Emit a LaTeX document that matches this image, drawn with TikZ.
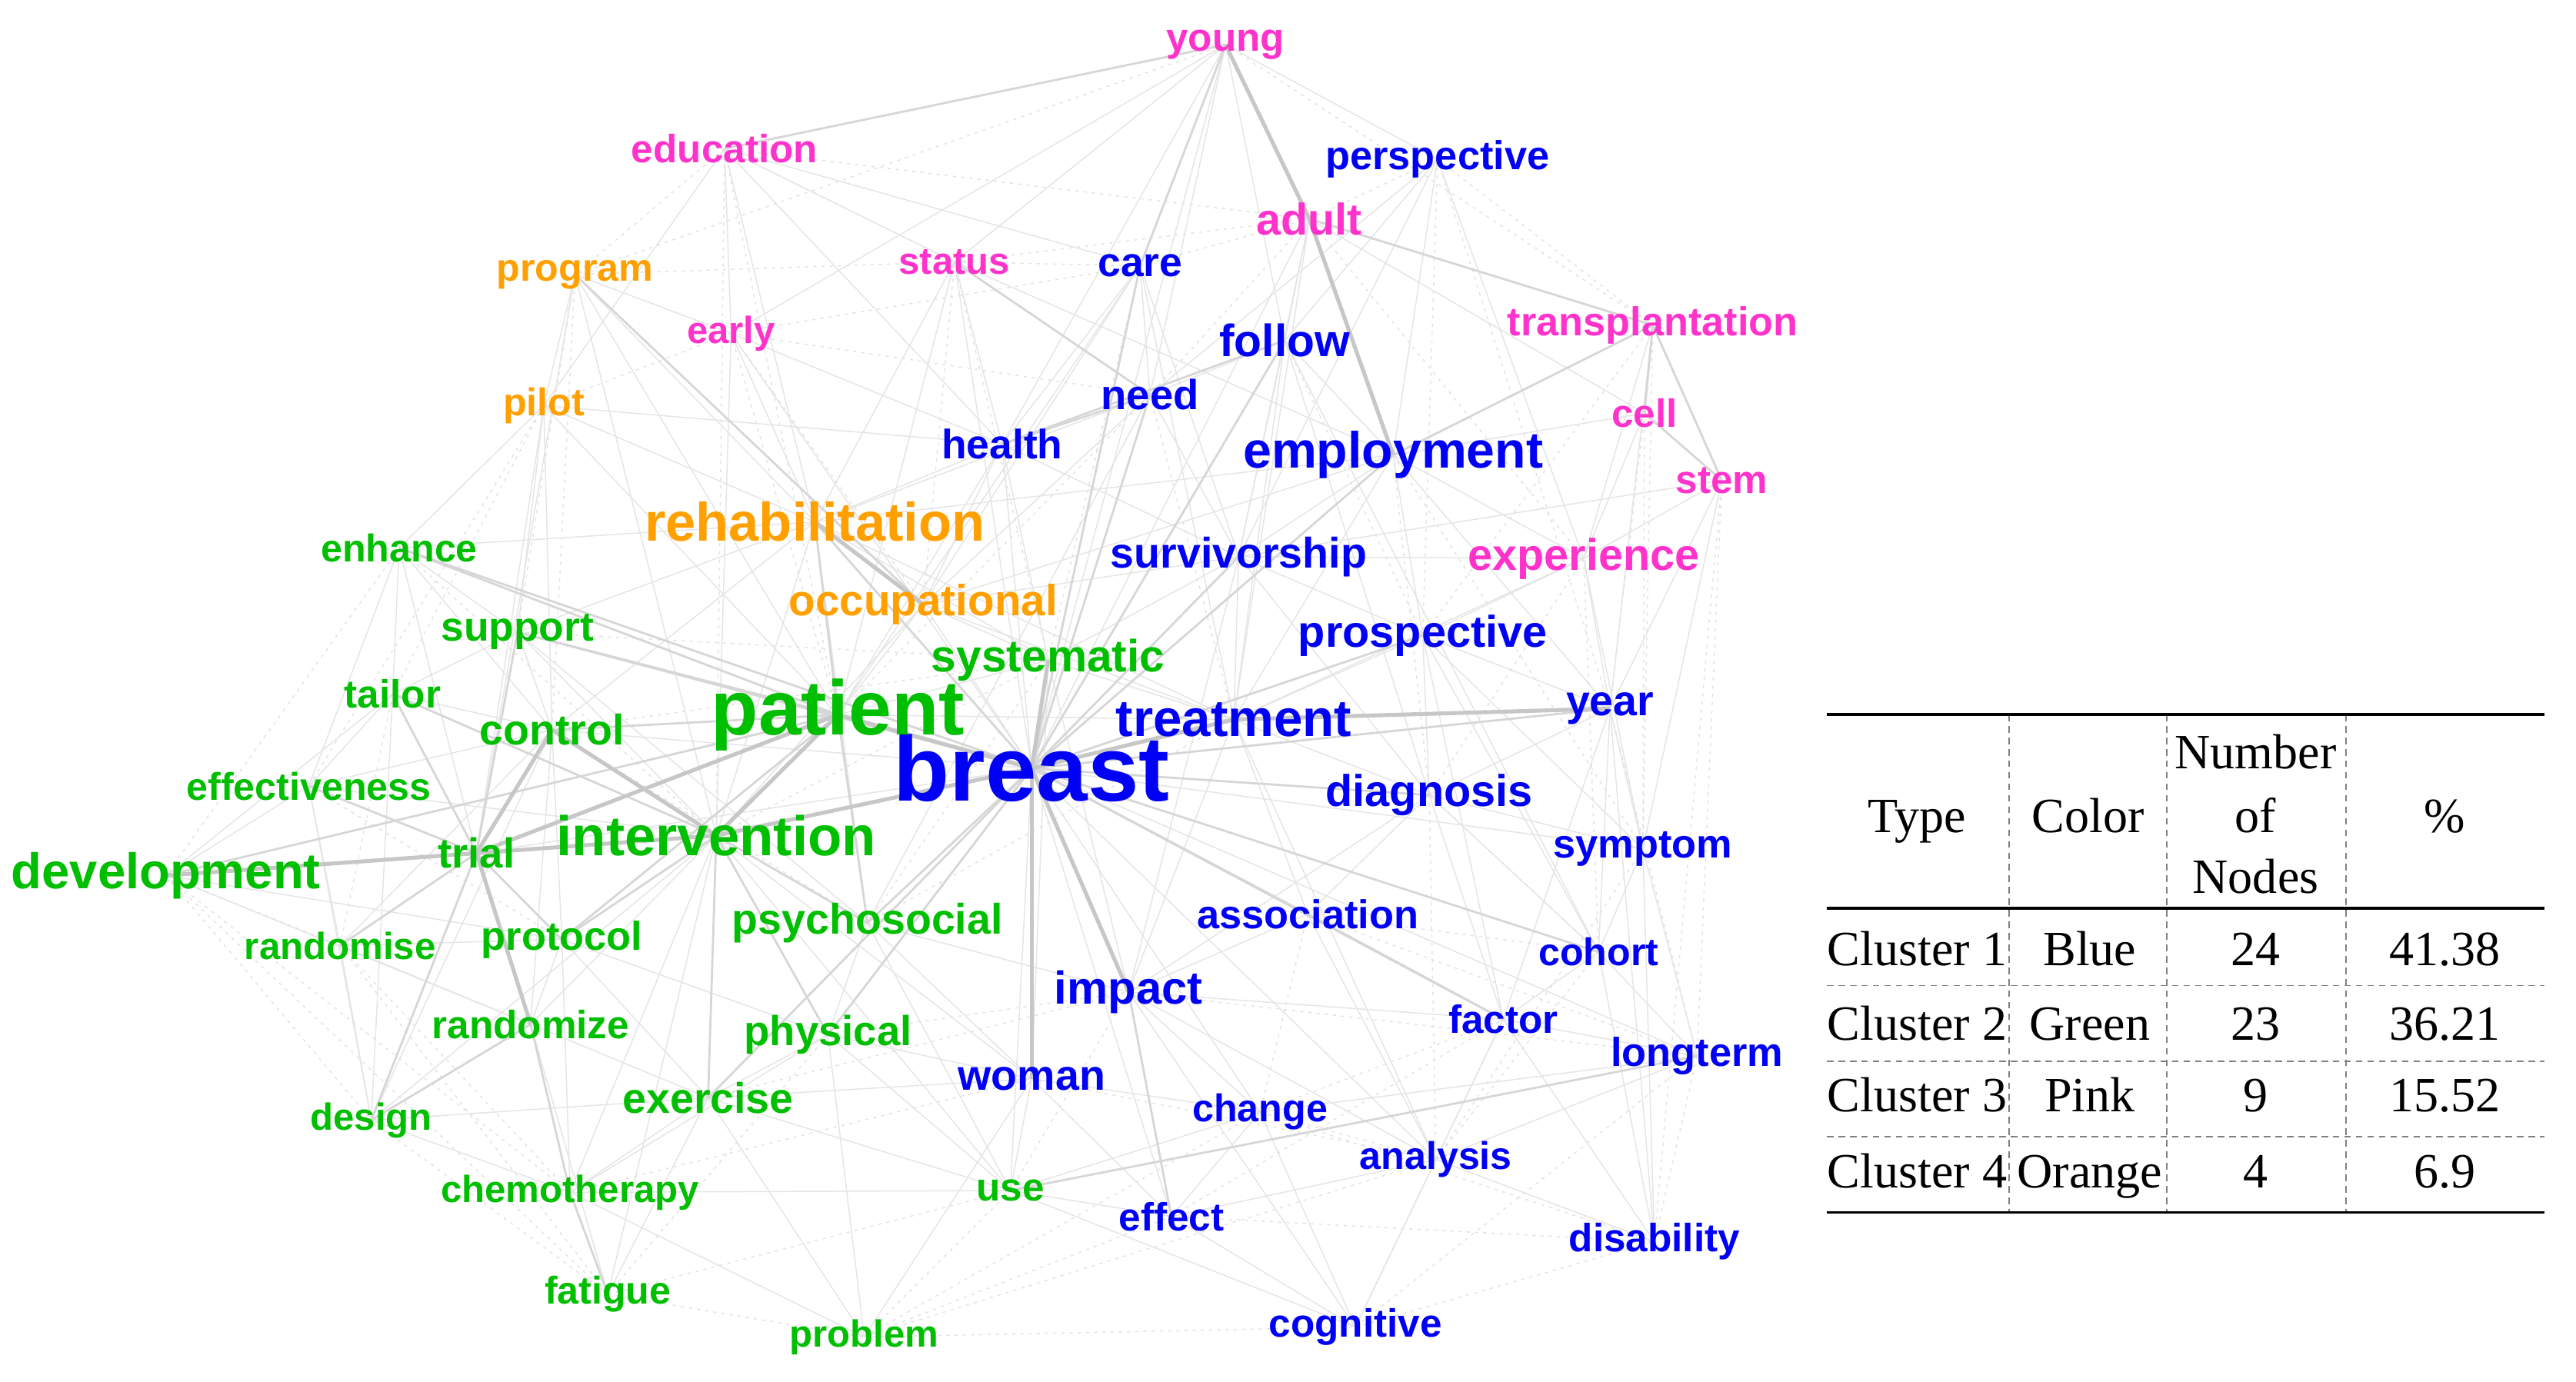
\documentclass[tikz,border=0pt]{standalone}
\usepackage{fontspec}
\setmainfont{Liberation Sans}
\newfontfamily\tabfont{Liberation Serif}
\usetikzlibrary{backgrounds}
\definecolor{cblue}{RGB}{0,0,245}
\definecolor{cgreen}{RGB}{0,190,0}
\definecolor{cpink}{RGB}{255,51,204}
\definecolor{corange}{RGB}{255,160,0}
\newcommand\wf[1]{\fontsize{#1}{#1}\selectfont\bfseries}
\newcommand\tf{\tabfont\fontsize{30}{30}\selectfont}
% style, size, name, x, y (visual centre), text
\newcommand\wnode[6]{\node[#1,font=\wf{#2}] (#3) at (#4,{#5+0.27*#2}) {#6};}
% name, x, baseline y, text
\newcommand\tnode[4]{\node[tcell] (#1) at (#2,#3) {#4};}
\begin{document}
\begin{tikzpicture}[x=1pt,y=-1pt,
 word/.style={inner sep=0pt, anchor=mid},
 bl/.style={word,text=cblue}, gr/.style={word,text=cgreen},
 pk/.style={word,text=cpink}, og/.style={word,text=corange},
 ek/.style={draw=black!22, line width=2.4pt},
 em/.style={draw=black!16, line width=1.3pt},
 et/.style={draw=black!10, line width=0.7pt},
 ed/.style={draw=black!11, line width=0.7pt, dash pattern=on 2pt off 3pt},
 tcell/.style={inner sep=0pt, anchor=base, font=\tf},
 rulek/.style={draw=black, line width=1.6pt},
 ruled/.style={draw=black!50, line width=0.9pt, dash pattern=on 4pt off 3pt}]
\useasboundingbox (0,0) rectangle (1568,841);
% pink
\wnode{pk}{24}{young}{746}{22}{young}
\wnode{pk}{24}{education}{441}{90}{education}
\wnode{pk}{27}{adult}{797}{133}{adult}
\wnode{pk}{23}{status}{581}{158}{status}
\wnode{pk}{23}{early}{445}{200}{early}
\wnode{pk}{24.5}{transplantation}{1006}{195}{transplantation}
\wnode{pk}{24}{cell}{1001}{251}{cell}
\wnode{pk}{24}{stem}{1048}{291}{stem}
\wnode{pk}{27}{experience}{964}{337}{experience}
% orange
\wnode{og}{23.5}{program}{350}{162}{program}
\wnode{og}{23.5}{pilot}{331}{244}{pilot}
\wnode{og}{33}{rehabilitation}{496}{318}{rehabilitation}
\wnode{og}{26.5}{occupational}{562}{365}{occupational}
% blue
\wnode{bl}{24.5}{perspective}{875}{94}{perspective}
\wnode{bl}{25}{care}{694}{159}{care}
\wnode{bl}{27.5}{follow}{782}{207}{follow}
\wnode{bl}{25.5}{need}{700}{240}{need}
\wnode{bl}{25}{health}{610}{270}{health}
\wnode{bl}{31}{employment}{848}{274}{employment}
\wnode{bl}{26}{survivorship}{754}{336}{survivorship}
\wnode{bl}{27}{prospective}{866}{384}{prospective}
\wnode{bl}{31.5}{treatment}{751}{437}{treatment}
\wnode{bl}{26}{year}{980}{426}{year}
\wnode{bl}{56}{breast}{628}{470}{breast}
\wnode{bl}{27}{diagnosis}{870}{481}{diagnosis}
\wnode{bl}{24.5}{symptom}{1000}{513}{symptom}
\wnode{bl}{24.5}{association}{796}{556}{association}
\wnode{bl}{23.5}{cohort}{973}{579}{cohort}
\wnode{bl}{28}{impact}{687}{601}{impact}
\wnode{bl}{24}{factor}{915}{620}{factor}
\wnode{bl}{24.5}{longterm}{1033}{640}{longterm}
\wnode{bl}{26}{woman}{628}{654}{woman}
\wnode{bl}{23.5}{change}{767}{674}{change}
\wnode{bl}{23.5}{analysis}{874}{703}{analysis}
\wnode{bl}{24}{effect}{713}{740}{effect}
\wnode{bl}{24}{disability}{1007}{753}{disability}
\wnode{bl}{24}{cognitive}{825}{805}{cognitive}
% green
\wnode{gr}{23.5}{enhance}{243}{333}{enhance}
\wnode{gr}{25}{support}{315}{381}{support}
\wnode{gr}{27.5}{systematic}{638}{399}{systematic}
\wnode{gr}{24}{tailor}{239}{422}{tailor}
\wnode{gr}{26}{control}{336}{444}{control}
\wnode{gr}{47}{patient}{510}{432}{patient}
\wnode{gr}{23.5}{effectiveness}{188}{478}{effectiveness}
\wnode{gr}{30.5}{development}{101}{530}{development}
\wnode{gr}{25.5}{trial}{290}{519}{trial}
\wnode{gr}{34}{intervention}{436}{509}{intervention}
\wnode{gr}{23}{randomise}{207}{575}{randomise}
\wnode{gr}{24.5}{protocol}{342}{569}{protocol}
\wnode{gr}{26}{psychosocial}{528}{559}{psychosocial}
\wnode{gr}{24}{randomize}{323}{623}{randomize}
\wnode{gr}{25.5}{physical}{504}{627}{physical}
\wnode{gr}{23}{design}{226}{679}{design}
\wnode{gr}{26}{exercise}{431}{668}{exercise}
\wnode{gr}{23}{chemotherapy}{347}{723}{chemotherapy}
\wnode{gr}{24}{use}{615}{722}{use}
\wnode{gr}{23.5}{fatigue}{370}{785}{fatigue}
\wnode{gr}{23}{problem}{526}{811}{problem}
\begin{pgfonlayer}{background}
\foreach \a/\b in {young/status,young/care,young/perspective,young/follow,young/early,young/need,young/health,
 education/early,education/rehabilitation,education/status,education/care,education/pilot,education/health,
 program/pilot,program/early,program/rehabilitation,program/patient,program/trial,program/intervention,
 pilot/rehabilitation,pilot/enhance,pilot/support,pilot/patient,pilot/trial,pilot/control,pilot/health,
 status/health,status/rehabilitation,status/breast,status/patient,status/employment,
 early/breast,early/rehabilitation,early/intervention,early/health,
 care/need,care/survivorship,care/occupational,care/health,care/patient,care/treatment,
 perspective/follow,perspective/need,perspective/employment,perspective/experience,perspective/survivorship,
 adult/follow,adult/survivorship,adult/cell,adult/breast,adult/treatment,
 follow/need,follow/employment,follow/survivorship,follow/treatment,follow/diagnosis,follow/cohort,
 need/survivorship,need/rehabilitation,need/occupational,need/psychosocial,
 health/rehabilitation,health/occupational,health/patient,health/survivorship,health/systematic,
 employment/survivorship,employment/experience,employment/prospective,employment/cell,employment/year,employment/treatment,employment/rehabilitation,employment/occupational,
 transplantation/experience,transplantation/year,
 cell/experience,stem/experience,stem/survivorship,stem/year,stem/symptom,
 experience/survivorship,experience/year,experience/symptom,experience/prospective,experience/treatment,
 survivorship/treatment,survivorship/prospective,survivorship/occupational,survivorship/systematic,survivorship/diagnosis,survivorship/impact,
 prospective/treatment,prospective/year,prospective/diagnosis,prospective/cohort,prospective/factor,prospective/symptom,
 rehabilitation/systematic,rehabilitation/intervention,rehabilitation/enhance,rehabilitation/support,rehabilitation/control,rehabilitation/treatment,rehabilitation/psychosocial,
 occupational/systematic,occupational/patient,occupational/intervention,occupational/treatment,
 systematic/patient,systematic/treatment,systematic/impact,systematic/woman,
 enhance/support,enhance/trial,enhance/tailor,enhance/control,enhance/effectiveness,
 support/control,support/intervention,support/tailor,support/psychosocial,
 tailor/control,tailor/effectiveness,tailor/development,tailor/design,
 control/randomise,control/randomize,control/protocol,control/effectiveness,control/design,
 effectiveness/development,effectiveness/intervention,effectiveness/randomise,effectiveness/design,
 development/protocol,development/randomize,
 intervention/randomize,intervention/design,intervention/chemotherapy,intervention/fatigue,intervention/use,intervention/woman,
 randomise/design,randomise/protocol,randomise/randomize,
 protocol/randomize,protocol/chemotherapy,protocol/exercise,protocol/physical,
 randomize/fatigue,randomize/exercise,design/chemotherapy,design/exercise,
 chemotherapy/exercise,chemotherapy/physical,chemotherapy/problem,chemotherapy/use,
 exercise/physical,exercise/fatigue,exercise/problem,exercise/use,exercise/woman,
 physical/psychosocial,physical/use,physical/problem,physical/woman,
 psychosocial/impact,psychosocial/woman,psychosocial/use,
 woman/use,woman/effect,woman/change,woman/problem,
 impact/change,impact/association,impact/analysis,impact/cognitive,impact/factor,
 use/effect,use/change,use/cognitive,
 effect/cognitive,effect/analysis,effect/change,
 cognitive/analysis,cognitive/factor,cognitive/change,
 analysis/association,analysis/disability,analysis/factor,analysis/longterm,analysis/treatment,
 factor/cohort,factor/year,factor/longterm,factor/diagnosis,factor/disability,
 cohort/symptom,cohort/disability,cohort/longterm,cohort/year,cohort/diagnosis,
 longterm/symptom,longterm/change,disability/symptom,disability/year,
 symptom/year,symptom/diagnosis,
 diagnosis/treatment,diagnosis/year,diagnosis/association,diagnosis/impact,
 treatment/association,treatment/impact,treatment/patient,
 breast/trial,breast/control,breast/support,breast/occupational,breast/health,breast/change,breast/effect,breast/use,breast/symptom,breast/analysis,breast/longterm,breast/young}
 \draw[et] (\a.center) -- (\b.center);
\foreach \a/\b in {young/transplantation,education/adult,young/program,fatigue/problem,problem/cognitive,problem/effect,
 status/adult,care/adult,education/status,early/need,program/status,cognitive/disability,effect/disability,
 use/problem,design/fatigue,development/randomise,development/design,longterm/disability,year/longterm,
 perspective/transplantation,cell/year,education/young,adult/perspective,status/care,early/care,pilot/early,
 education/program,education/patient,education/intervention,program/control,program/support,pilot/tailor,
 pilot/effectiveness,status/occupational,status/systematic,early/patient,early/occupational,care/systematic,
 need/treatment,need/patient,perspective/prospective,perspective/year,adult/need,adult/experience,
 follow/prospective,employment/diagnosis,employment/symptom,transplantation/symptom,transplantation/prospective,
 cell/symptom,stem/longterm,stem/disability,experience/cohort,experience/diagnosis,symptom/analysis,
 diagnosis/cohort,diagnosis/analysis,association/cohort,association/change,association/longterm,impact/use,
 impact/longterm,woman/analysis,change/analysis,change/factor,change/disability,analysis/cohort,
 cognitive/longterm,effect/factor,problem/change,problem/analysis,fatigue/use,fatigue/physical,
 randomise/chemotherapy,randomise/fatigue,development/chemotherapy,development/fatigue,effectiveness/protocol,
 tailor/randomise,enhance/development,enhance/intervention,support/systematic,control/systematic,
 control/psychosocial,intervention/systematic,psychosocial/systematic,psychosocial/treatment,physical/impact,
 exercise/impact,chemotherapy/woman}
 \draw[ed] (\a.center) -- (\b.center);
\foreach \a/\b in {breast/rehabilitation,breast/survivorship,breast/employment,breast/need,breast/follow,breast/care,
 breast/diagnosis,breast/association,breast/cohort,breast/factor,breast/prospective,breast/psychosocial,breast/physical,
 patient/rehabilitation,patient/control,patient/support,patient/enhance,patient/development,patient/protocol,patient/psychosocial,
 trial/randomise,trial/design,trial/protocol,trial/effectiveness,trial/tailor,trial/support,
 development/intervention,intervention/psychosocial,intervention/physical,intervention/exercise,intervention/protocol,
 randomize/chemotherapy,randomize/design,chemotherapy/fatigue,transplantation/cell,transplantation/stem,cell/stem,
 adult/transplantation,transplantation/employment,follow/health,health/need,program/occupational,enhance/breast,
 support/breast,tailor/intervention,breast/exercise,impact/effect,association/factor,breast/year,use/longterm,
 young/education,status/need,young/care}
 \draw[em] (\a.center) -- (\b.center);
\foreach \a/\b in {breast/patient,breast/woman,patient/intervention,patient/trial,trial/development,trial/intervention,
 trial/control,breast/treatment,treatment/year,young/adult,adult/employment,rehabilitation/occupational,breast/impact,
 trial/randomize,control/intervention,breast/intervention,breast/systematic}
 \draw[ek] (\a.center) -- (\b.center);
\end{pgfonlayer}
% table
\draw[ruled] (1223,435) -- (1223,738) (1319,435) -- (1319,738) (1428,435) -- (1428,738);
\draw[ruled] (1112,600) -- (1549,600) (1112,646) -- (1549,646) (1112,692) -- (1549,692);
\draw[rulek] (1112,435) -- (1549,435) (1112,553) -- (1549,553) (1112,738) -- (1549,738);
\tnode{hType}{1167}{507}{Type}
\tnode{hColor}{1271}{507}{Color}
\tnode{hNum1}{1373}{468}{Number}
\tnode{hNum2}{1373}{507}{of}
\tnode{hNum3}{1373}{544}{Nodes}
\tnode{hPct}{1488}{507}{\%}
\tnode{r1a}{1167}{588}{Cluster 1}
\tnode{r1b}{1272}{588}{Blue}
\tnode{r1c}{1373}{588}{24}
\tnode{r1d}{1488}{588}{41.38}
\tnode{r2a}{1167}{633}{Cluster 2}
\tnode{r2b}{1272}{633}{Green}
\tnode{r2c}{1373}{633}{23}
\tnode{r2d}{1488}{633}{36.21}
\tnode{r3a}{1167}{677}{Cluster 3}
\tnode{r3b}{1272}{677}{Pink}
\tnode{r3c}{1373}{677}{9}
\tnode{r3d}{1488}{677}{15.52}
\tnode{r4a}{1167}{723}{Cluster 4}
\tnode{r4b}{1272}{723}{Orange}
\tnode{r4c}{1373}{723}{4}
\tnode{r4d}{1488}{723}{6.9}
\end{tikzpicture}
\end{document}
